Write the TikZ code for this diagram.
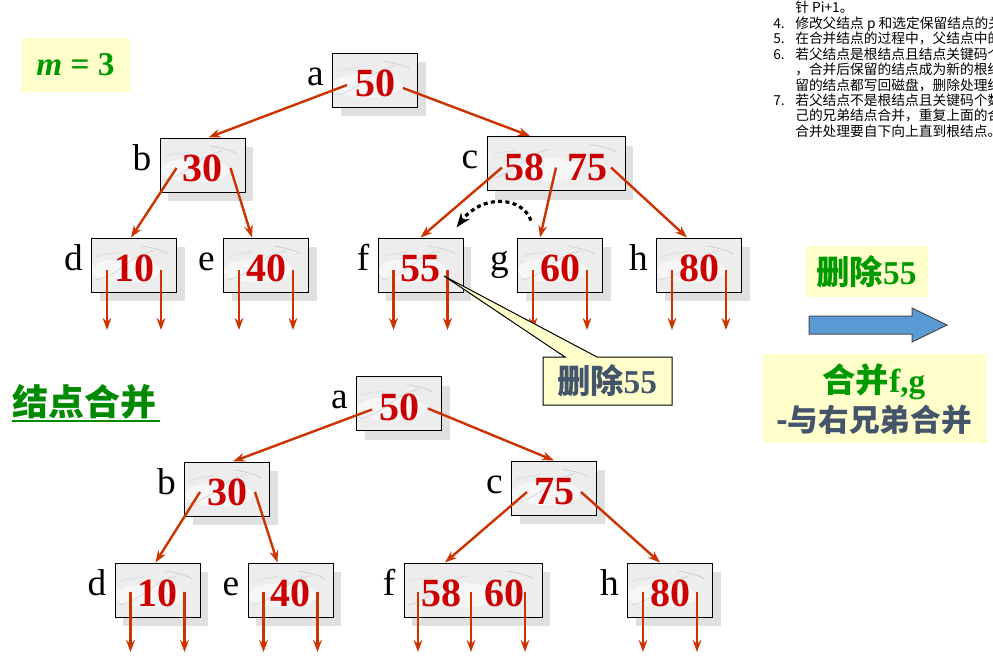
\documentclass[tikz,border=0pt]{standalone}
\usepackage{fontspec}
\setmainfont{Liberation Serif}
\newfontfamily\cjk{Noto Sans CJK SC}
\usetikzlibrary{arrows.meta,calc,positioning,shadows}

\definecolor{keyred}{HTML}{CC0000}
\definecolor{ptrred}{HTML}{CC3300}
\definecolor{notegreen}{HTML}{009900}
\definecolor{titlegreen}{HTML}{008A00}
\definecolor{noteyellow}{HTML}{FFFFCC}
\definecolor{slate}{HTML}{44546A}
\definecolor{arrowblue}{HTML}{5B9BD5}

\tikzset{
  keybox/.style={draw=black, line width=0.75pt, fill=gray!14, inner sep=0pt,
    minimum width=63.75pt, minimum height=40.5pt, text=keyred,
    font=\fontsize{30}{30}\selectfont\bfseries, text height=25pt, text depth=0pt,
    drop shadow={shadow xshift=6pt, shadow yshift=-7pt, fill=black!12, opacity=1},
    path picture={
      \fill[white, opacity=.5] ($(path picture bounding box.center)+(-6pt,-4pt)$) ellipse (26pt and 9pt);
      \draw[gray!40, line width=0.5pt, opacity=.8] ($(path picture bounding box.south west)+(3pt,9pt)$)
        .. controls +(10pt,2pt) and +(-8pt,-6pt) .. +(26pt,14pt)
        .. controls +(8pt,6pt) and +(-6pt,-2pt) .. +(44pt,22pt);
      \draw[gray!45, line width=0.5pt, opacity=.8] ($(path picture bounding box.north east)+(-26pt,-6pt)$)
        .. controls +(6pt,-1pt) and +(-4pt,3pt) .. +(20pt,-6pt);
      \draw[gray!35, line width=0.4pt, opacity=.8] ($(path picture bounding box.north west)+(4pt,-14pt)$)
        .. controls +(6pt,3pt) and +(-5pt,-2pt) .. +(18pt,4pt);
    }},
  widebox/.style={keybox, minimum width=103.5pt},
  lbl/.style={font=\fontsize{28}{28}\selectfont, anchor=base east, inner sep=0pt},
  ptr/.style={draw=ptrred, line width=1.8pt, -{Stealth[length=9pt,width=6.5pt]}},
  notebox/.style={fill=noteyellow, draw=none},
  smalltxt/.style={font=\cjk\fontsize{10.3}{10.3}\selectfont, anchor=base west, inner sep=0pt},
}

\begin{document}
\begin{tikzpicture}[x=0.75pt,y=-0.75pt]
\useasboundingbox[fill=white] (0,0) rectangle (993,657);

% Hinweise oben rechts
\foreach \yy/\num/\txt in {12//{针 Pi+1。},
    28/4./{修改父结点 p 和选定保留结点的关},
    43/5./{在合并结点的过程中，父结点中的关},
    59/6./{若父结点是根结点且结点关键码个数},
    74//{，合并后保留的结点成为新的根结点},
    90//{留的结点都写回磁盘，删除处理结束},
    105/7./{若父结点不是根结点且关键码个数减},
    120//{己的兄弟结点合并，重复上面的合并},
    136//{合并处理要自下向上直到根结点。}}{
  \node[smalltxt] at (773,\yy) {\num};
  \node[smalltxt] at (795,\yy) {\txt};
}

% m = 3
\node[notebox, minimum width=81.75pt, minimum height=40.5pt] (mbox) at (75.5,65) {};
\node[text=notegreen, font=\fontsize{25}{25}\selectfont\bfseries] (mtxt) at (mbox) {\textit{m} = 3};

% Baum vor dem Loeschen
\node[keybox] (a1) at (375,80) {50};
\node[keybox] (b1) at (202.5,165) {30};
\node[widebox] (c1) at (556,163.5) {58\hspace{17pt}75};
\node[keybox] (d1) at (134,265) {10};
\node[keybox] (e1) at (266,265) {40};
\node[keybox] (f1) at (420.5,265) {55};
\node[keybox] (g1) at (560,265) {60};
\node[keybox] (h1) at (699,265) {80};
\foreach \n/\t in {a1/a,b1/b,c1/c,d1/d,e1/e,f1/f,g1/g,h1/h}{
  \node[lbl] (\n-l) at ([xshift=-6pt,yshift=-4pt]\n.west) {\t};
}
\draw[ptr] ($(a1)+(-28,5)$) -- ($(b1.north)+(6,0)$);
\draw[ptr] ($(a1)+(28,8)$) -- ($(c1.north)+(-26,0)$);
\draw[ptr] ($(b1)+(-26,3)$) -- ($(d1.north)+(-3,0)$);
\draw[ptr] ($(b1)+(28,3)$) -- ($(e1.north)+(-14,0)$);
\draw[ptr] ($(c1)+(-54,4)$) -- (f1.north);
\draw[ptr] ($(c1)+(0,4)$) -- ($(g1.north)+(-20,0)$);
\draw[ptr] ($(c1)+(55,4)$) -- ($(h1.north)+(-12,0)$);
\foreach \n in {d1,e1,f1,g1,h1}{
  \draw[ptr] ($(\n)+(-27,5)$) -- ++(0,60);
  \draw[ptr] ($(\n)+(27,5)$) -- ++(0,60);
}
% Verschieben von g nach f
\draw[line width=2.4pt, dash pattern=on 3pt off 2.5pt, -{Stealth[length=11pt,width=8pt]}]
  ($(g1.north west)+(14,-17)$) .. controls (522,196) and (482,194) .. ($(f1.north east)+(-7,-10)$);

% Sprechblase
\draw[fill=noteyellow, line width=0.75pt] (543,357) -- (565,357) -- (444,276) -- (597,357)
  -- (672,357) -- (672,405) -- (543,405) -- cycle;
\node[text=slate, font=\cjk\fontsize{25}{25}\selectfont\bfseries] (del1) at (607,381) {删除{\rmfamily 55}};

% rechte Seite
\node[notebox, minimum width=92.25pt, minimum height=38.25pt] (delbox) at (866.5,271.5) {};
\node[text=notegreen, font=\cjk\fontsize{25}{25}\selectfont\bfseries] (del2) at (delbox) {删除{\rmfamily 55}};
\draw[fill=arrowblue, draw=black!70, line width=0.75pt] (809,316) -- (912,316) -- (912,308) -- (947,325)
  -- (912,342) -- (912,334) -- (809,334) -- cycle;
\node[notebox, minimum width=168pt, minimum height=66.75pt] (mergebox) at (875,398.5) {};
\node[text=notegreen, font=\cjk\fontsize{25}{25}\selectfont\bfseries] (merge1) at (874,382) {合并{\rmfamily f,g}};
\node[text=slate, font=\cjk\fontsize{23}{23}\selectfont\bfseries] (merge2) at (874,420) {-与右兄弟合并};

% Titel
\node[text=titlegreen, font=\cjk\fontsize{27}{27}\selectfont\bfseries, inner sep=0pt, anchor=west] (title) at (12,402) {结点合并};
\draw[titlegreen, line width=1.6pt] (12,421) -- (160,421);

% Baum nach dem Zusammenlegen
\node[keybox] (a2) at (399,403.5) {50};
\node[keybox] (b2) at (227,489) {30};
\node[keybox] (c2) at (554,488) {75};
\node[keybox] (d2) at (157.5,590) {10};
\node[keybox] (e2) at (290.5,590) {40};
\node[widebox] (f2) at (473,590) {58\hspace{17pt}60};
\node[keybox] (h2) at (670,590) {80};
\foreach \n/\t in {a2/a,b2/b,c2/c,d2/d,e2/e,f2/f,h2/h}{
  \node[lbl] (\n-l) at ([xshift=-6pt,yshift=-4pt]\n.west) {\t};
}
\draw[ptr] ($(a2)+(-27,6)$) -- ($(b2.north)+(6,0)$);
\draw[ptr] ($(a2)+(29,5)$) -- (c2.north);
\draw[ptr] ($(b2)+(-27,3)$) -- ($(d2.north)+(-2,0)$);
\draw[ptr] ($(b2)+(28,3)$) -- ($(e2.north)+(-13,0)$);
\draw[ptr] ($(c2)+(-27,4)$) -- ($(f2.north)+(-28,0)$);
\draw[ptr] ($(c2)+(27,4)$) -- ($(h2.north)+(-10,0)$);
\foreach \n in {d2,e2,h2}{
  \draw[ptr] ($(\n)+(-27,2)$) -- ++(0,60);
  \draw[ptr] ($(\n)+(27,2)$) -- ++(0,60);
}
\foreach \dx in {-55,-2,52}{
  \draw[ptr] ($(f2)+(\dx,2)$) -- ++(0,60);
}
\end{tikzpicture}
\end{document}
